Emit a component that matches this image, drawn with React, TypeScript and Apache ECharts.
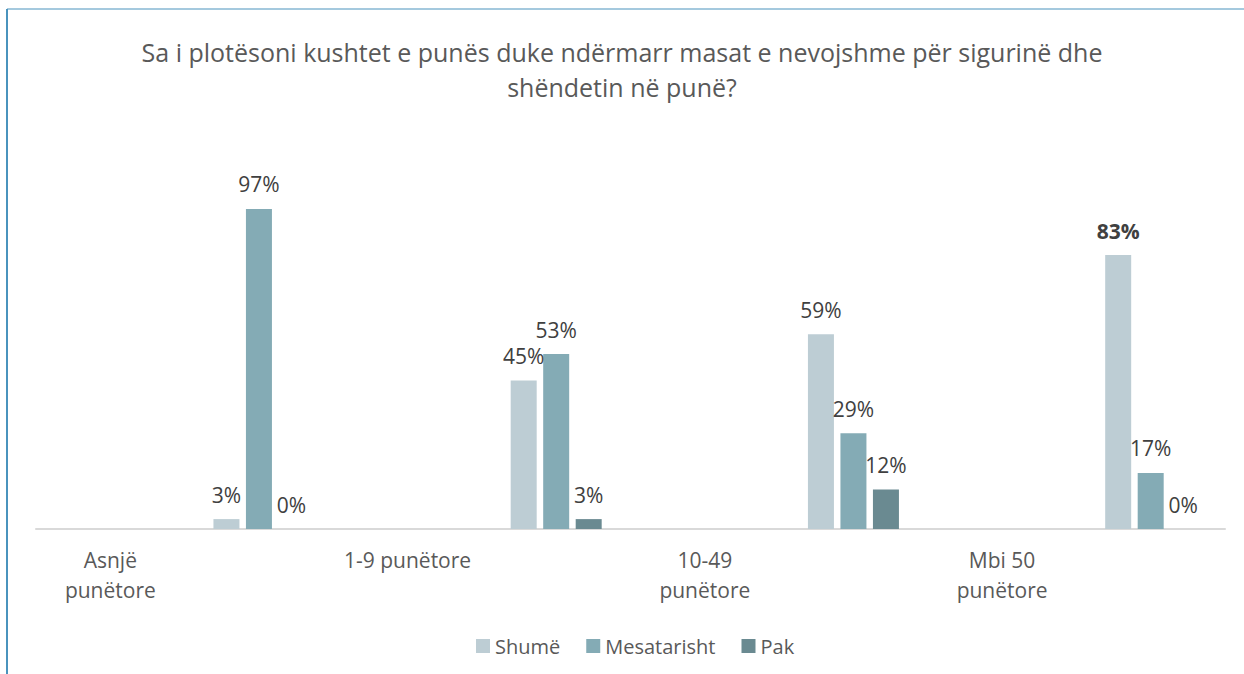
import React, { useEffect, useRef } from "react";
import * as echarts from "echarts";

const titleText =
  "Sa i plotësoni kushtet e punës duke ndërmarr masat e nevojshme për sigurinë dhe\nshëndetin në punë?";
const groupLabels = ["Asnjë\npunëtore", "1-9 punëtore", "10-49\npunëtore", "Mbi 50\npunëtore"];
const seriesNames = ["Shumë", "Mesatarisht", "Pak"];
const shume = [3, 45, 59, 83];
const mesatarisht = [97, 53, 29, 17];
const pak = [0, 3, 12, 0];
const colors = ["#bdcdd4", "#84abb5", "#6a8a91"];

// Excel layout: each group's label sits one slot to the left of its bars
const axisCategories: string[] = [];
groupLabels.forEach((g) => {
  axisCategories.push(g);
  axisCategories.push("");
});
const spread = (vals: number[]) => {
  const out: any[] = [];
  vals.forEach((v) => {
    out.push("-");
    out.push(v);
  });
  return out;
};

export default function App() {
  const ref = useRef<HTMLDivElement>(null);
  useEffect(() => {
    if (!ref.current) return;
    const chart = echarts.init(ref.current, null, { renderer: "svg" });
    const font = "'Open Sans', sans-serif";
    const makeSeries = (name: string, vals: number[], color: string) => ({
      name,
      type: "bar",
      data: spread(vals).map((v) =>
        v === "-"
          ? "-"
          : v === 83
          ? { value: v, label: { fontWeight: "bold" } }
          : v
      ),
      barWidth: 26,
      barGap: "25%",
      itemStyle: { color },
      label: {
        show: true,
        position: "top",
        distance: 14,
        formatter: "{c}%",
        fontFamily: font,
        fontSize: 21,
        color: "#404040",
      },
    });
    chart.setOption({
      animation: false,
      backgroundColor: "#ffffff",
      legend: {
        data: seriesNames,
        left: 471,
        top: 631,
        icon: "rect",
        itemWidth: 14,
        itemHeight: 14,
        itemGap: 26,
        textStyle: { fontFamily: font, fontSize: 20, color: "#595959" },
      },
      grid: { left: 36, right: 19, top: 199, bottom: 145 },
      xAxis: {
        type: "category",
        data: axisCategories,
        axisTick: { show: false },
        axisLine: { lineStyle: { color: "#d9d9d9", width: 2 } },
        axisLabel: {
          interval: 0,
          margin: 16,
          fontFamily: font,
          fontSize: 21,
          lineHeight: 30,
          color: "#595959",
        },
      },
      yAxis: { type: "value", min: 0, max: 100, show: false, splitLine: { show: false } },
      series: [
        makeSeries(seriesNames[0], shume, colors[0]),
        makeSeries(seriesNames[1], mesatarisht, colors[1]),
        makeSeries(seriesNames[2], pak, colors[2]),
      ],
      graphic: [
        { type: "line", shape: { x1: 7, y1: 9, x2: 7, y2: 674 }, style: { stroke: "#4a93bd", lineWidth: 2 } },
        { type: "line", shape: { x1: 7, y1: 9, x2: 1244, y2: 9 }, style: { stroke: "#4a93bd", lineWidth: 1 } },
        {
          type: "text",
          x: 622,
          y: 34,
          style: {
            text: titleText,
            align: "center",
            verticalAlign: "top",
            fontFamily: font,
            fontSize: 25,
            lineHeight: 35,
            fill: "#595959",
          },
        },
      ],
    });
    return () => chart.dispose();
  }, []);
  return (
    <div
      ref={ref}
      style={{ position: "fixed", left: 0, top: 0, width: 1244, height: 674 }}
    />
  );
}
